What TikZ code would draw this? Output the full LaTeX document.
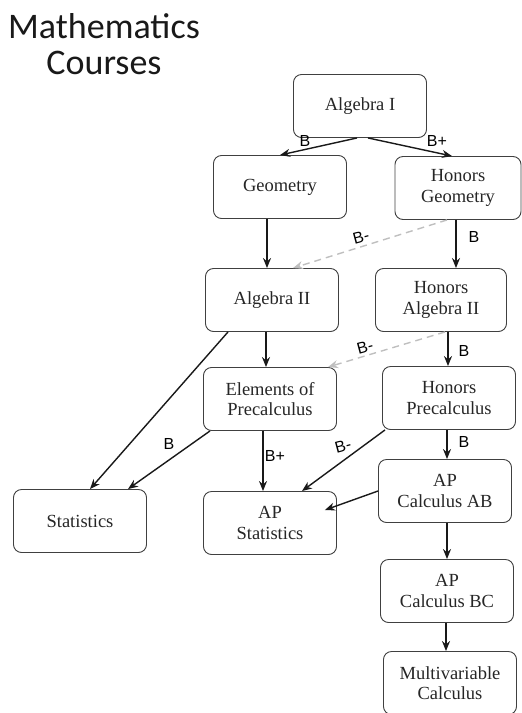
\documentclass[tikz,border=0pt]{standalone}
\usepackage{fontspec}
\setmainfont{Liberation Serif}
\newfontfamily\titlefont{Carlito}
\newfontfamily\gradefont{Liberation Sans}
\usetikzlibrary{arrows.meta}

\tikzset{
  course/.style={draw=black!75, rounded corners=8pt, line width=0.9pt,
    minimum width=133pt, minimum height=63pt, align=center,
    font=\fontsize{18.5}{20.5}\selectfont, text=black!85},
  prereq/.style={-{Stealth[length=10pt,width=8pt]}, line width=1.4pt, black!90},
  option/.style={prereq, black!25, dash pattern=on 7pt off 5pt},
  grade/.style={font=\gradefont\fontsize{16}{16}\selectfont}
}

\begin{document}
\begin{tikzpicture}[x=1pt, y=-1pt]
      \useasboundingbox (0,0) rectangle (522,713);
      \node[align=center, anchor=north, inner sep=0pt,
        font=\titlefont\fontsize{36}{36}\selectfont, text=black!90]
        (title) at (104,13) {Mathematics\\Courses};
      % courses
      \node[course] (alg1)     at (360,106) {Algebra I};
      \node[course] (geo)      at (280,187) {Geometry};
      \node[course, minimum width=126pt] (hgeo) at (458,188) {Honors\\Geometry};
      \node[course] (alg2)     at (272,300) {Algebra II};
      \node[course, minimum width=131pt] (halg2) at (441,300) {Honors\\Algebra II};
      \node[course] (elem)     at (270,399) {Elements of\\Precalculus};
      \node[course] (hprecalc) at (449,398) {Honors\\Precalculus};
      \node[course] (stats)    at (80,521)  {Statistics};
      \node[course] (apstats)  at (270,523) {AP\\Statistics};
      \node[course] (apab)     at (445,491) {AP\\Calculus AB};
      \node[course] (apbc)     at (447,591) {AP\\Calculus BC};
      \node[course] (multi)    at (450,683) {Multivariable\\Calculus};
      % arrows
      \draw[prereq] ([xshift=-3]alg1.south) -- (geo.north);
      \draw[prereq] ([xshift=8]alg1.south) -- ([xshift=-6]hgeo.north);
      \draw[prereq] ([xshift=-13]geo.south) -- ([xshift=-5]alg2.north);
      \draw[prereq] ([xshift=-2]hgeo.south) -- ([xshift=15]halg2.north);
      \draw[option] ([xshift=-11]hgeo.south) -- ([xshift=21]alg2.north);
      \draw[prereq] ([xshift=-6]alg2.south) -- ([xshift=-4]elem.north);
      \draw[prereq] ([xshift=7]halg2.south) -- ([xshift=-1]hprecalc.north);
      \draw[option] ([xshift=4]halg2.south) -- ([xshift=58]elem.north);
      \draw[prereq] ([xshift=-44]alg2.south) -- ([xshift=10]stats.north);
      \draw[prereq] ([xshift=-60]elem.south) -- ([xshift=48]stats.north);
      \draw[prereq] ([xshift=-7]elem.south) -- ([xshift=-7]apstats.north);
      \draw[prereq] ([xshift=-64]hprecalc.south) -- ([xshift=32]apstats.north);
      \draw[prereq] ([xshift=-2]hprecalc.south) -- ([xshift=2]apab.north);
      \draw[prereq] (apab.west) -- ([shift={(-12,-13)}]apstats.east);
      \draw[prereq] ([xshift=2]apab.south) -- (apbc.north);
      \draw[prereq] ([xshift=-1]apbc.south) -- ([xshift=-4]multi.north);
      % grades
      \node[grade] (gA) at (305,141) {B};
      \node[grade] (gB) at (437,141) {B+};
      \node[grade] (gC) at (474,237) {B};
      \node[grade, rotate=15] (gD) at (361,237) {B-};
      \node[grade, rotate=15] (gE) at (365,347) {B-};
      \node[grade] (gF) at (464,351) {B};
      \node[grade] (gG) at (169,444) {B};
      \node[grade] (gH) at (275,456) {B+};
      \node[grade, rotate=15] (gI) at (343,446) {B-};
      \node[grade] (gJ) at (464,442) {B};
\end{tikzpicture}
\end{document}
